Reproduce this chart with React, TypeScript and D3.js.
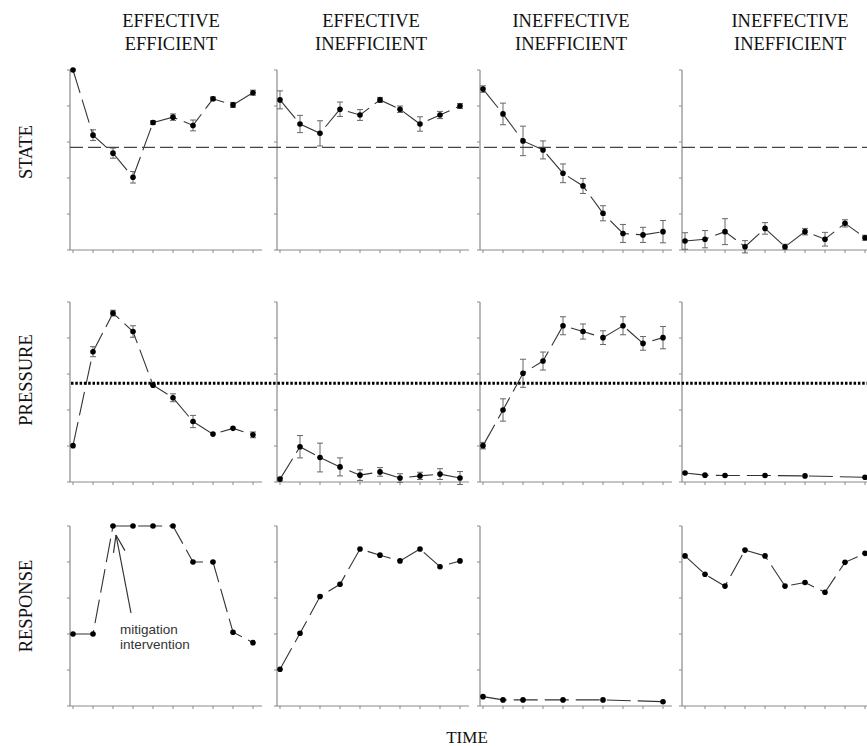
import React from "react";
import * as d3 from "d3";

// ---------- data ----------
const titleTop = ["EFFECTIVE", "EFFECTIVE", "INEFFECTIVE", "INEFFECTIVE"];
const titleBottom = ["EFFICIENT", "INEFFICIENT", "INEFFICIENT", "INEFFICIENT"];
const rowLabels = ["STATE", "PRESSURE", "RESPONSE"];
const xLabel = "TIME";
const timeSteps = [0, 1, 2, 3, 4, 5, 6, 7, 8, 9];
const yTicks = [0, 1, 2, 3, 4, 5];

const stateThreshold = 2.85;
const pressureThreshold = 2.74;

const stateEffEff = [5.0, 3.19, 2.69, 2.02, 3.54, 3.69, 3.46, 4.2, 4.03, 4.37];
const stateEffEffErr = [0.03, 0.15, 0.14, 0.16, 0.05, 0.09, 0.15, 0.05, 0.07, 0.07];
const stateEffIneff = [4.17, 3.5, 3.24, 3.91, 3.75, 4.17, 3.91, 3.5, 3.75, 4.0];
const stateEffIneffErr = [0.25, 0.24, 0.35, 0.2, 0.15, 0.07, 0.09, 0.2, 0.1, 0.07];
const stateIneffIneffA = [4.47, 3.78, 3.03, 2.78, 2.13, 1.78, 1.02, 0.46, 0.42, 0.51];
const stateIneffIneffAErr = [0.09, 0.3, 0.41, 0.25, 0.26, 0.21, 0.21, 0.25, 0.21, 0.31];
const stateIneffIneffB = [0.25, 0.3, 0.51, 0.09, 0.6, 0.09, 0.51, 0.3, 0.74, 0.34];
const stateIneffIneffBErr = [0.23, 0.24, 0.36, 0.17, 0.16, 0.07, 0.09, 0.19, 0.1, 0.07];

const pressureEffEff = [1.01, 3.62, 4.69, 4.18, 2.69, 2.34, 1.68, 1.33, 1.49, 1.31];
const pressureEffEffErr = [0.02, 0.14, 0.08, 0.16, 0.03, 0.11, 0.17, 0.02, 0.02, 0.08];
const pressureEffIneff = [0.08, 0.98, 0.68, 0.42, 0.19, 0.28, 0.11, 0.17, 0.22, 0.11];
const pressureEffIneffErr = [0.05, 0.31, 0.4, 0.25, 0.15, 0.12, 0.12, 0.1, 0.15, 0.18];
const pressureIneffIneffA = [1.01, 2.0, 3.02, 3.36, 4.34, 4.18, 4.01, 4.34, 3.85, 4.01];
const pressureIneffIneffAErr = [0.09, 0.31, 0.39, 0.25, 0.25, 0.21, 0.19, 0.25, 0.19, 0.31];
const pressureIneffIneffB = [0.25, 0.19, 0.18, null, 0.18, null, 0.17, null, null, 0.13];

const responseEffEff = [2.0, 2.0, 5.0, 5.0, 5.0, 5.0, 4.0, 4.0, 2.05, 1.76];
const responseEffIneff = [1.02, 2.02, 3.04, 3.38, 4.36, 4.19, 4.03, 4.36, 3.87, 4.03];
const responseIneffIneffA = [0.26, 0.17, 0.17, null, 0.17, null, 0.17, null, null, 0.12];
const responseIneffIneffB = [4.17, 3.66, 3.33, 4.33, 4.17, 3.33, 3.43, 3.16, 3.99, 4.24];

const annotationLines = ["mitigation", "intervention"];
const annotationIndex = 2; // points at the response peak of first panel

// ---------- layout ----------
const W = 867;
const H = 746;
const colX = [70, 277, 480, 682];
const rowY = [70, 302, 526];
const panelW = 192;
const panelH = 180;
const titleX = [171, 371, 571, 790];
const labelY = [152, 380, 606];

type Series = { values: (number | null)[]; errs: number[] | null };

const grid: Series[][] = [
  [
    { values: stateEffEff, errs: stateEffEffErr },
    { values: stateEffIneff, errs: stateEffIneffErr },
    { values: stateIneffIneffA, errs: stateIneffIneffAErr },
    { values: stateIneffIneffB, errs: stateIneffIneffBErr },
  ],
  [
    { values: pressureEffEff, errs: pressureEffEffErr },
    { values: pressureEffIneff, errs: pressureEffIneffErr },
    { values: pressureIneffIneffA, errs: pressureIneffIneffAErr },
    { values: pressureIneffIneffB, errs: null },
  ],
  [
    { values: responseEffEff, errs: null },
    { values: responseEffIneff, errs: null },
    { values: responseIneffIneffA, errs: null },
    { values: responseIneffIneffB, errs: null },
  ],
];

const serif = "'Liberation Serif', 'Times New Roman', serif";
const axisColor = "#8a8a8a";

function Panel({ r, c, s }: { r: number; c: number; s: Series }) {
  const x0 = colX[c];
  const y0 = rowY[r];
  const x = d3.scaleLinear().domain([0, 9]).range([x0 + 3, x0 + 183]);
  const y = d3.scaleLinear().domain([0, 5]).range([y0 + panelH, y0]);
  const pts = timeSteps
    .map((t, i) => ({ t, v: s.values[i], e: s.errs ? s.errs[i] : 0 }))
    .filter((p) => p.v !== null && p.v !== undefined) as { t: number; v: number; e: number }[];
  const line = d3
    .line<{ t: number; v: number }>()
    .x((p) => x(p.t))
    .y((p) => y(p.v));
  return (
    <g>
      <line x1={x0} x2={x0} y1={y0} y2={y0 + panelH} stroke={axisColor} strokeWidth={1.2} />
      <line x1={x0} x2={x0 + panelW} y1={y0 + panelH} y2={y0 + panelH} stroke={axisColor} strokeWidth={1.2} />
      {yTicks.map((t) => (
        <line key={"yt" + t} x1={x0 - 3} x2={x0} y1={y(t)} y2={y(t)} stroke={axisColor} strokeWidth={1} />
      ))}
      {timeSteps.map((t) => (
        <line key={"xt" + t} x1={x(t)} x2={x(t)} y1={y0 + panelH} y2={y0 + panelH + 3} stroke={axisColor} strokeWidth={1} />
      ))}
      <path d={line(pts) || ""} fill="none" stroke="#333" strokeWidth={1.1} strokeDasharray="24,7" />
      {s.errs &&
        pts.map((p, i) =>
          p.e > 0.04 ? (
            <g key={"e" + i} stroke="#666" strokeWidth={1}>
              <line x1={x(p.t)} x2={x(p.t)} y1={y(p.v - p.e)} y2={y(p.v + p.e)} />
              <line x1={x(p.t) - 3} x2={x(p.t) + 3} y1={y(p.v - p.e)} y2={y(p.v - p.e)} />
              <line x1={x(p.t) - 3} x2={x(p.t) + 3} y1={y(p.v + p.e)} y2={y(p.v + p.e)} />
            </g>
          ) : null
        )}
      {pts.map((p, i) => (
        <circle key={"c" + i} cx={x(p.t)} cy={y(p.v)} r={2.8} fill="#000" />
      ))}
    </g>
  );
}

export default function App() {
  const yState = d3.scaleLinear().domain([0, 5]).range([rowY[0] + panelH, rowY[0]]);
  const yPressure = d3.scaleLinear().domain([0, 5]).range([rowY[1] + panelH, rowY[1]]);
  const xA = d3.scaleLinear().domain([0, 9]).range([colX[0] + 3, colX[0] + 183]);
  const yA = d3.scaleLinear().domain([0, 5]).range([rowY[2] + panelH, rowY[2]]);
  const tipX = xA(annotationIndex) + 3;
  const tipY = yA(responseEffEff[annotationIndex]) + 9;
  const tailX = tipX + 15;
  const tailY = tipY + 78;
  const ang = Math.atan2(tailY - tipY, tailX - tipX);
  const barb = 18;
  const spread = 0.33;

  return (
    <svg
      width={W}
      height={H}
      style={{ position: "absolute", left: 0, top: 0, background: "#fff" }}
    >
      <rect x={0} y={0} width={W} height={H} fill="#fff" />
      {titleTop.map((t, i) => (
        <g key={"t" + i} fontFamily={serif} fontSize={18.5} textAnchor="middle" fill="#111">
          <text x={titleX[i]} y={27}>{t}</text>
          <text x={titleX[i]} y={50}>{titleBottom[i]}</text>
        </g>
      ))}
      {rowLabels.map((l, i) => (
        <text
          key={"r" + i}
          transform={`translate(32,${labelY[i]}) rotate(-90)`}
          textAnchor="middle"
          fontFamily={serif}
          fontSize={18.5}
          fill="#111"
        >
          {l}
        </text>
      ))}
      <text x={467} y={743} textAnchor="middle" fontFamily={serif} fontSize={17} fill="#111">
        {xLabel}
      </text>

      {grid.map((row, r) => row.map((s, c) => <Panel key={r + "-" + c} r={r} c={c} s={s} />))}

      <line
        x1={colX[0]}
        x2={W}
        y1={yState(stateThreshold)}
        y2={yState(stateThreshold)}
        stroke="#444"
        strokeWidth={1.4}
        strokeDasharray="13,5"
      />
      <line
        x1={colX[0] + 1}
        x2={W}
        y1={yPressure(pressureThreshold)}
        y2={yPressure(pressureThreshold)}
        stroke="#000"
        strokeWidth={3}
        strokeDasharray="2.5,1.8"
      />

      <g stroke="#333" strokeWidth={1.2} fill="none">
        <line x1={tailX} y1={tailY} x2={tipX} y2={tipY} />
        <line x1={tipX} y1={tipY} x2={tipX + barb * Math.cos(ang - spread)} y2={tipY + barb * Math.sin(ang - spread)} />
        <line x1={tipX} y1={tipY} x2={tipX + barb * Math.cos(ang + spread)} y2={tipY + barb * Math.sin(ang + spread)} />
      </g>
      <g fontFamily="'Liberation Sans', Arial, sans-serif" fontSize={13.5} fill="#333">
        {annotationLines.map((l, i) => (
          <text key={l} x={120} y={634 + i * 15}>
            {l}
          </text>
        ))}
      </g>
    </svg>
  );
}
